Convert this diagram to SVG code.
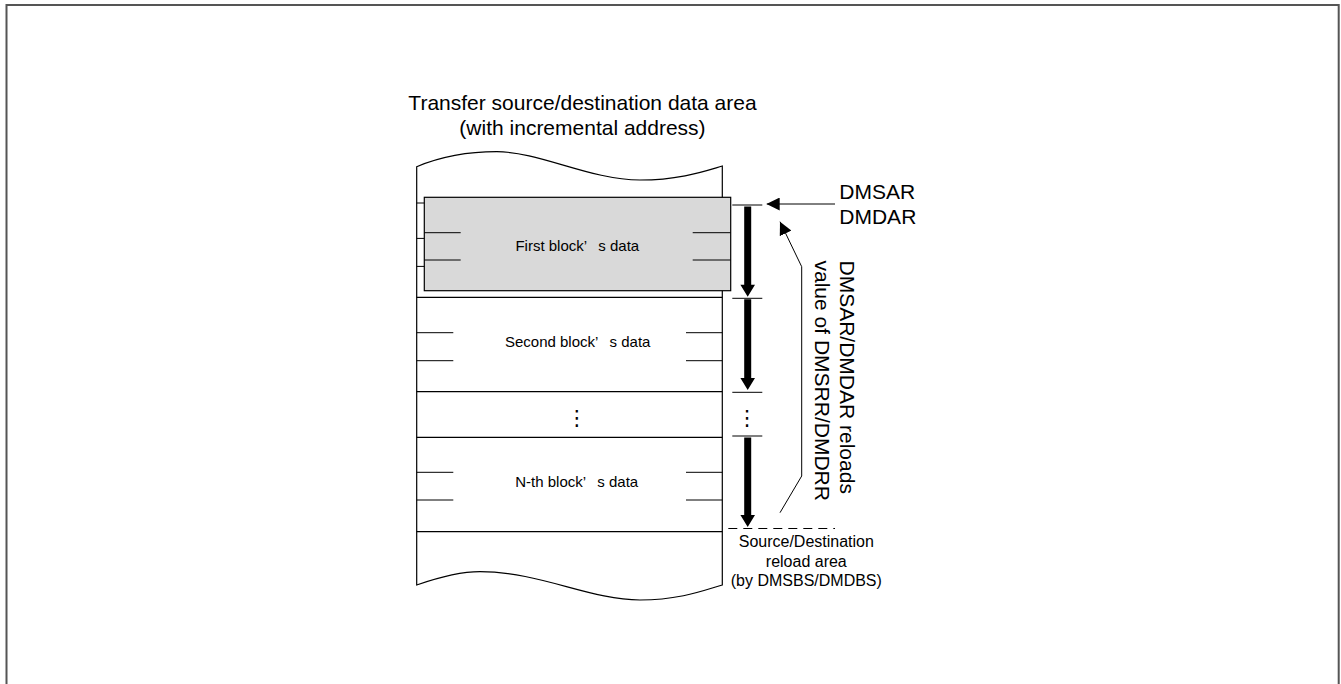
<svg xmlns="http://www.w3.org/2000/svg" width="1341" height="684" viewBox="0 0 1341 684">
<style>
.t{font-family:"Liberation Sans",Arial,sans-serif;fill:#000}
.t21{font-size:21px}
.t16{font-size:16px}
.t15{font-size:15px}
.ln{stroke:#000;stroke-width:1.2;fill:none}
.th{stroke:#000;stroke-width:1;fill:none}
.dots{font-family:"DejaVu Sans",sans-serif;font-size:21px;text-anchor:middle}
</style>
<defs>
<marker id="ah" viewBox="0 0 13 13" refX="13" refY="6.5" markerWidth="13" markerHeight="13" markerUnits="userSpaceOnUse" orient="auto">
<path d="M0,0 L13,6.5 L0,13 Z" fill="#000"/>
</marker>
</defs>
<rect x="6.5" y="5" width="1332.2" height="700" fill="#fff" stroke="#555" stroke-width="2"/>

<g id="title">
<text class="t t21" x="582.5" y="110" text-anchor="middle">Transfer source/destination data area</text>
<text class="t t21" x="582.5" y="135" text-anchor="middle">(with incremental address)</text>
</g>

<g id="memory">
<path class="ln" d="M416.7,585 L416.7,166.7 C445,155 470,151.7 496.7,151.7 C540,151.7 590,180 640,180 C680,180 705,171 722.3,166 L722.3,585 C705,590 680,600 640,600 C590,600 540,571.7 480,571.7 C460,571.7 440,577 416.7,585 Z" fill="#fff"/>
<line class="th" x1="416.7" y1="203" x2="722.3" y2="203"/>
<line class="th" x1="416.7" y1="238.4" x2="453.3" y2="238.4"/>
<line class="th" x1="416.7" y1="266.4" x2="453.3" y2="266.4"/>
<line class="ln" x1="416.7" y1="297.3" x2="722.3" y2="297.3"/>
<line class="ln" x1="416.7" y1="391.7" x2="722.3" y2="391.7"/>
<line class="ln" x1="416.7" y1="437.3" x2="722.3" y2="437.3"/>
<line class="ln" x1="416.7" y1="531.7" x2="722.3" y2="531.7"/>
</g>

<g id="first-block">
<rect x="424.3" y="197.3" width="306.4" height="93.4" fill="#d9d9d9" stroke="#000" stroke-width="1.2"/>
<line class="th" x1="424.3" y1="232.7" x2="460.7" y2="232.7"/>
<line class="th" x1="424.3" y1="260" x2="460.7" y2="260"/>
<line class="th" x1="692.7" y1="232.7" x2="730.7" y2="232.7"/>
<line class="th" x1="692.7" y1="260" x2="730.7" y2="260"/>
<text class="t t15" x="577.3" y="251" text-anchor="middle">First block’<tspan dx="11.5">s data</tspan></text>
</g>

<g id="second-block">
<line class="th" x1="416.7" y1="332.7" x2="453.3" y2="332.7"/>
<line class="th" x1="416.7" y1="360.7" x2="453.3" y2="360.7"/>
<line class="th" x1="686" y1="332.7" x2="722.3" y2="332.7"/>
<line class="th" x1="686" y1="360.7" x2="722.3" y2="360.7"/>
<text class="t t15" x="577.7" y="346.5" text-anchor="middle">Second block’<tspan dx="11.5">s data</tspan></text>
</g>

<g id="ellipsis-block">
<text class="dots" x="577" y="424.5">⋮</text>
</g>

<g id="nth-block">
<line class="th" x1="416.7" y1="472.3" x2="453.3" y2="472.3"/>
<line class="th" x1="416.7" y1="500" x2="453.3" y2="500"/>
<line class="th" x1="686" y1="472.3" x2="722.3" y2="472.3"/>
<line class="th" x1="686" y1="500" x2="722.3" y2="500"/>
<text class="t t15" x="576.7" y="487" text-anchor="middle">N-th block’<tspan dx="11.5">s data</tspan></text>
</g>

<g id="registers">
<text class="t t21" x="839.3" y="198.5">DMSAR</text>
<text class="t t21" x="839.3" y="223.5">DMDAR</text>
</g>

<g id="reload-label">
<text class="t t21" transform="translate(839.5,260.5) rotate(90)"><tspan x="0" y="0">DMSAR/DMDAR reloads</tspan><tspan x="0" y="24.5">value of DMSRR/DMDRR</tspan></text>
</g>

<g id="reload-area">
<text class="t t16" text-anchor="middle"><tspan x="806.3" y="547.3">Source/Destination</tspan><tspan x="806.3" y="566.5">reload area</tspan><tspan x="806.3" y="585.6">(by DMSBS/DMDBS)</tspan></text>
</g>

<g id="connectors">
<line class="th" x1="732.3" y1="205" x2="762.3" y2="205"/>
<line class="th" x1="732.3" y1="298.3" x2="762.3" y2="298.3"/>
<line class="th" x1="732.3" y1="392.3" x2="762.3" y2="392.3"/>
<line class="th" x1="732.3" y1="436" x2="762.3" y2="436"/>
<path d="M744.2,206.5 H751.2 V284.7 H755 L747.7,296.7 L740.4,284.7 H744.2 Z" fill="#000"/>
<path d="M744.2,299.3 H751.2 V378 H755 L747.7,390 L740.4,378 H744.2 Z" fill="#000"/>
<path d="M744.2,437.5 H751.2 V515 H755 L747.7,527 L740.4,515 H744.2 Z" fill="#000"/>
<text class="dots" x="747.3" y="424.5">⋮</text>
<line class="th" x1="728.3" y1="528.5" x2="835" y2="528.5" stroke-dasharray="9,6"/>
<line class="th" x1="835" y1="204" x2="766.7" y2="204" marker-end="url(#ah)"/>
<path class="th" d="M780,512.7 L801.7,476 L801.7,266.7 L780,221.7" marker-end="url(#ah)"/>
</g>
</svg>
